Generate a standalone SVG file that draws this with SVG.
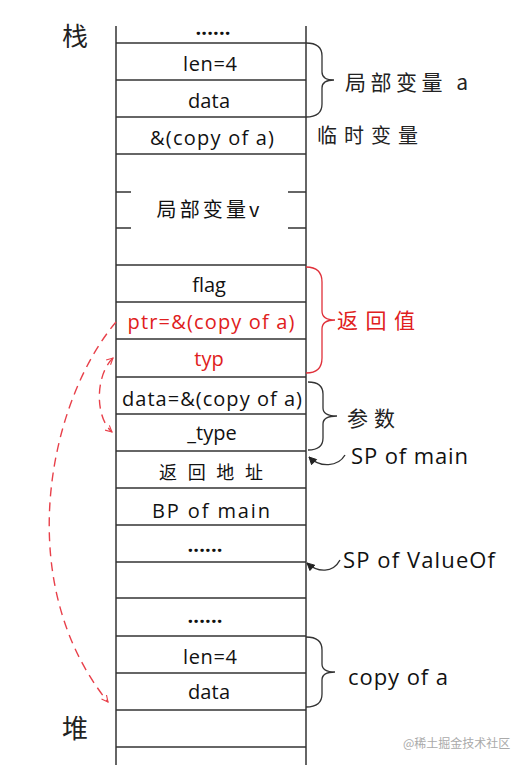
<svg xmlns="http://www.w3.org/2000/svg" width="517" height="768" viewBox="0 0 517 768">
<style>
.ln{stroke:#333;stroke-width:1.5;fill:none}
.t{font-family:"Open Sans","Noto Sans CJK SC",sans-serif;font-size:20px;fill:#111;text-anchor:middle}
.dots{font-weight:bold}
.red{fill:#e02020}
.cn{font-family:"Noto Sans CJK SC",sans-serif;font-size:21px;fill:#222}
.lbl{font-family:"Open Sans","Noto Sans CJK SC",sans-serif;font-size:22px;fill:#111}
.br{stroke:#333;stroke-width:1.3;fill:none}
.rbr{stroke:#e0303a;stroke-width:1.3;fill:none}
.rd{stroke:#e8404a;stroke-width:1.4;fill:none;stroke-dasharray:9 6}
.sp{stroke:#333;stroke-width:1.4;fill:none}
</style>
<defs>
<marker id="ra" viewBox="0 0 10 10" refX="9" refY="5" markerWidth="8" markerHeight="8" markerUnits="userSpaceOnUse" orient="auto-start-reverse">
<path d="M1,1 L9,5 L1,9" fill="none" stroke="#e8404a" stroke-width="1.4" stroke-dasharray="none"/>
</marker>
<marker id="ba" viewBox="0 0 10 10" refX="9" refY="5" markerWidth="9" markerHeight="9" markerUnits="userSpaceOnUse" orient="auto">
<path d="M1,1 L9,5 L1,9 Z" fill="#222" stroke="#222" stroke-width="1"/>
</marker>
</defs>
<rect width="517" height="768" fill="#fff"/>

<g id="stack-frame">
<line class="ln" x1="116" y1="26" x2="116" y2="765"/>
<line class="ln" x1="306" y1="26" x2="306" y2="765"/>
<line class="ln" x1="116" y1="43" x2="306" y2="43"/>
<line class="ln" x1="116" y1="80" x2="306" y2="80"/>
<line class="ln" x1="116" y1="117" x2="306" y2="117"/>
<line class="ln" x1="116" y1="154" x2="306" y2="154"/>
<line class="ln" x1="116" y1="192" x2="131" y2="192"/>
<line class="ln" x1="116" y1="228" x2="131" y2="228"/>
<line class="ln" x1="288" y1="192" x2="306" y2="192"/>
<line class="ln" x1="288" y1="228" x2="306" y2="228"/>
<line class="ln" x1="116" y1="265" x2="306" y2="265"/>
<line class="ln" x1="116" y1="302" x2="306" y2="302"/>
<line class="ln" x1="116" y1="339" x2="306" y2="339"/>
<line class="ln" x1="116" y1="377" x2="306" y2="377"/>
<line class="ln" x1="116" y1="414" x2="306" y2="414"/>
<line class="ln" x1="116" y1="451" x2="306" y2="451"/>
<line class="ln" x1="116" y1="488" x2="306" y2="488"/>
<line class="ln" x1="116" y1="525" x2="306" y2="525"/>
<line class="ln" x1="116" y1="562" x2="306" y2="562"/>
<line class="ln" x1="116" y1="598" x2="306" y2="598"/>
<line class="ln" x1="116" y1="636" x2="306" y2="636"/>
<line class="ln" x1="116" y1="673" x2="306" y2="673"/>
<line class="ln" x1="116" y1="710" x2="306" y2="710"/>
<line class="ln" x1="116" y1="747" x2="306" y2="747"/>
</g>

<g id="cell-dots-top"><text class="t dots" x="213" y="35" textLength="35" lengthAdjust="spacing">......</text></g>
<g id="cell-len"><text class="t" x="210" y="71" textLength="54" lengthAdjust="spacing">len=4</text></g>
<g id="cell-data"><text class="t" x="209" y="108" textLength="42" lengthAdjust="spacing">data</text></g>
<g id="cell-copyref"><text class="t" x="212" y="145" textLength="124" lengthAdjust="spacing">&amp;(copy of a)</text></g>
<g id="cell-localv"><text class="t" x="208" y="217" textLength="103" lengthAdjust="spacing" style="font-family:'Noto Sans CJK SC',sans-serif">局部变量v</text></g>
<g id="cell-flag"><text class="t" x="209" y="292">flag</text></g>
<g id="cell-ptr"><text class="t red" x="211" y="329" textLength="167" lengthAdjust="spacing">ptr=&amp;(copy of a)</text></g>
<g id="cell-typ"><text class="t red" x="209" y="366">typ</text></g>
<g id="cell-dataarg"><text class="t" x="212" y="406" textLength="180" lengthAdjust="spacing">data=&amp;(copy of a)</text></g>
<g id="cell-type"><text class="t" x="212" y="440">_type</text></g>
<g id="cell-ret"><text class="t" x="211" y="479" textLength="104" lengthAdjust="spacing" style="font-family:'Noto Sans CJK SC',sans-serif;font-size:18px">返回地址</text></g>
<g id="cell-bp"><text class="t" x="211" y="518" textLength="118" lengthAdjust="spacing">BP of main</text></g>
<g id="cell-dots-mid"><text class="t dots" x="205" y="552" textLength="35" lengthAdjust="spacing">......</text></g>
<g id="cell-dots-heap"><text class="t dots" x="205" y="623" textLength="35" lengthAdjust="spacing">......</text></g>
<g id="cell-len2"><text class="t" x="210" y="664" textLength="54" lengthAdjust="spacing">len=4</text></g>
<g id="cell-data2"><text class="t" x="209" y="699" textLength="42" lengthAdjust="spacing">data</text></g>

<g id="label-stack"><text class="cn" x="62" y="46" style="font-size:26px">栈</text></g>
<g id="label-heap"><text class="cn" x="62" y="738" style="font-size:26px">堆</text></g>

<g id="braces">
<path class="br" d="M306,43 Q322,43 322,56 L322,72 Q322,80 334,80 Q322,80 322,88 L322,104 Q322,117 306,117"/>
<path class="rbr" d="M306,267 Q322,267 322,282 L322,311 Q322,320 335,320 Q322,320 322,329 L322,358 Q322,373 306,373"/>
<path class="br" d="M308,382 Q323,382 323,394 L323,408 Q323,416 337,416 Q323,416 323,424 L323,438 Q323,450 308,450"/>
<path class="br" d="M306,637 Q322,637 322,650 L322,664 Q322,672 335,672 Q322,672 322,680 L322,694 Q322,707 306,707"/>
</g>

<g id="label-locala"><text class="cn" x="345" y="90" textLength="123" lengthAdjust="spacing">局部变量 a</text></g>
<g id="label-temp"><text class="cn" x="317" y="143" textLength="101" lengthAdjust="spacing" style="font-size:20px">临时变量</text></g>
<g id="label-retval"><text class="cn" x="337" y="328" textLength="78" lengthAdjust="spacing" style="fill:#e02020">返回值</text></g>
<g id="label-params"><text class="cn" x="347" y="426" textLength="48" lengthAdjust="spacing">参数</text></g>
<g id="label-spmain"><text class="lbl" x="351" y="464" textLength="117" lengthAdjust="spacing">SP of main</text></g>
<g id="label-spvalueof"><text class="lbl" x="343" y="568" textLength="152" lengthAdjust="spacing">SP of ValueOf</text></g>
<g id="label-copya"><text class="lbl" x="348" y="685" textLength="100" lengthAdjust="spacing">copy of a</text></g>

<g id="connectors">
<path class="rd" d="M116,322 C50,400 10,580 108,702" marker-end="url(#ra)"/>
<path class="rd" d="M113,358 C96,374 94,416 112,432" marker-start="url(#ra)" marker-end="url(#ra)"/>
<path class="sp" d="M345,455 C338,467 320,468 309,457" marker-end="url(#ba)"/>
<path class="sp" d="M340,560 C333,573 318,573 307,563" marker-end="url(#ba)"/>
</g>

<g id="watermark"><text x="403" y="748" style="font-family:'Noto Sans CJK SC',sans-serif;font-size:12px;fill:#aaa">@稀土掘金技术社区</text></g>
</svg>
